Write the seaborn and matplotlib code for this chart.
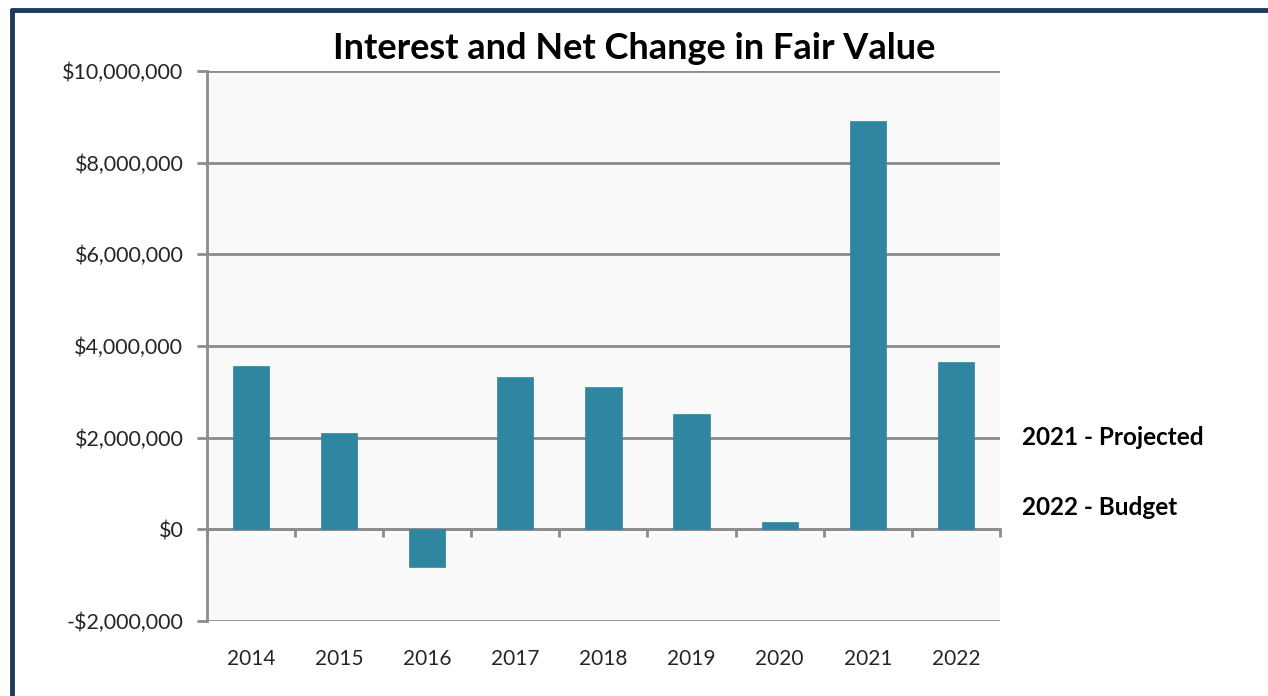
import numpy as np
import pandas as pd
import matplotlib
matplotlib.use("Agg")
import matplotlib.pyplot as plt
import seaborn as sns
from matplotlib.ticker import FuncFormatter
from matplotlib.lines import Line2D

# Data
years = ["2014", "2015", "2016", "2017", "2018", "2019", "2020", "2021", "2022"]
values = [3560000, 2100000, -830000, 3320000, 3100000, 2510000, 170000, 8900000, 3650000]
y_ticks = [-2000000, 0, 2000000, 4000000, 6000000, 8000000, 10000000]
notes = ["2021 - Projected", "2022 - Budget"]
title = "Interest and Net Change in Fair Value"

sns.set_theme(style="white")
plt.rcParams["font.family"] = ["Lato", "DejaVu Sans"]

BAR = "#2E86A1"
GRID = "#8C8C8C"
TEXT = "#262626"

fig = plt.figure(figsize=(12.68, 6.96), dpi=100)
fig.patch.set_facecolor("white")
ax = fig.add_axes([0.1632, 0.1078, 0.6254, 0.7902])
ax.set_facecolor("#FAFAFA")

df = pd.DataFrame({"year": years, "value": values})
sns.barplot(data=df, x="year", y="value", order=years, color=BAR,
            saturation=1, width=0.41, ax=ax, zorder=3,
            edgecolor=BAR, linewidth=0.5)

ax.set_xlim(-0.5, len(years) - 0.5)
ax.set_ylim(y_ticks[0], y_ticks[-1])
ax.set_yticks(y_ticks)


def money(v, _):
    if v < 0:
        return "-${:,.0f}".format(-v)
    return "${:,.0f}".format(v)


ax.yaxis.set_major_formatter(FuncFormatter(money))
ax.grid(axis="y", color=GRID, linewidth=2, zorder=1)
ax.set_axisbelow(True)

# Category axis drawn along the zero line with boundary ticks
ax.spines["bottom"].set_position(("data", 0))
ax.spines["bottom"].set_color(GRID)
ax.spines["bottom"].set_linewidth(2)
ax.spines["left"].set_color(GRID)
ax.spines["left"].set_linewidth(2)
ax.spines["top"].set_visible(False)
ax.spines["right"].set_visible(False)
ax.set_xticks(np.arange(-0.5, len(years), 1.0))
ax.set_xticklabels([])
ax.tick_params(axis="x", direction="out", length=6, width=2, color=GRID, bottom=True)
ax.tick_params(axis="y", direction="out", length=7, width=2, color=GRID, left=True,
               pad=10, labelsize=15.5, labelcolor=TEXT)
ax.set_xlabel("")
ax.set_ylabel("")

# Year labels along the bottom edge
sec = ax.secondary_xaxis(0)
sec.set_xticks(range(len(years)))
sec.set_xticklabels(years)
sec.tick_params(length=0, pad=20, labelsize=15, labelcolor=TEXT)
sec.spines["bottom"].set_visible(False)

fig.text(0.5, 0.930, title, ha="center", va="center", fontsize=26,
         fontweight="bold", color="black")

fig.text(0.806, 0.372, notes[0], ha="left", va="center", fontsize=17.5,
         fontweight="bold", color="black")
fig.text(0.806, 0.271, notes[1], ha="left", va="center", fontsize=17.5,
         fontweight="bold", color="black")

# Slide frame
fig.add_artist(Line2D([0.0095, 1.0], [0.9856, 0.9856], transform=fig.transFigure,
                      color="#1F3A60", linewidth=3.5))
fig.add_artist(Line2D([0.0095, 0.0095], [0.0, 0.9856], transform=fig.transFigure,
                      color="#1F3A60", linewidth=3.5))

fig.savefig("out.png", dpi=100, facecolor="white")
